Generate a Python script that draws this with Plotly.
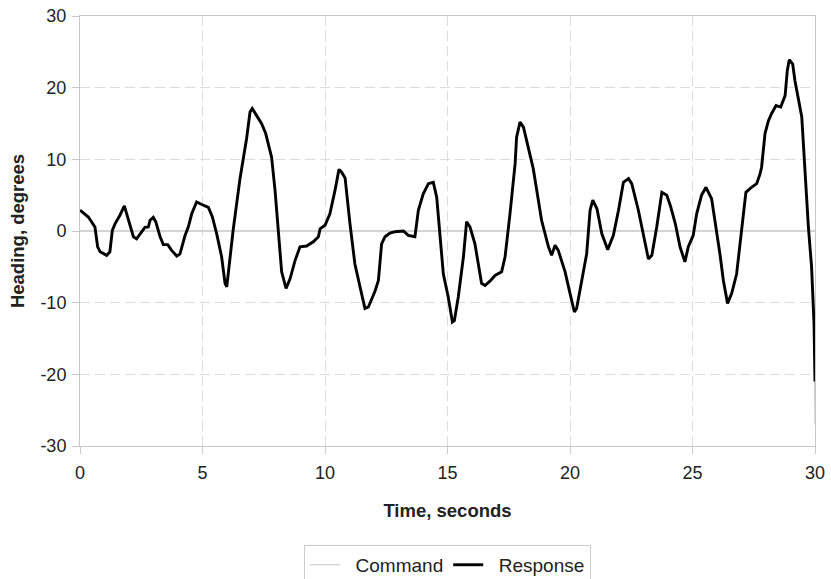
import plotly.graph_objects as go

time_s = [0, 0.34, 0.61, 0.72, 0.82, 1.09, 1.22, 1.32, 1.43, 1.63, 1.81, 1.97, 2.18, 2.31,
          2.52, 2.65, 2.79, 2.86, 2.99, 3.09, 3.27, 3.4, 3.58, 3.74, 3.95, 4.08, 4.29, 4.42,
          4.56, 4.76, 4.97, 5.24, 5.4, 5.58, 5.78, 5.92, 5.99, 6.05, 6.25, 6.53, 6.67, 6.8,
          6.94, 7.03, 7.21, 7.41, 7.58, 7.82, 7.96, 8.1, 8.23, 8.41, 8.57, 8.78, 8.98, 9.25,
          9.52, 9.73, 9.8, 10.0, 10.2, 10.41, 10.57, 10.68, 10.82, 11.02, 11.22, 11.49, 11.63,
          11.77, 12.04, 12.18, 12.31, 12.45, 12.65, 12.86, 13.06, 13.2, 13.4, 13.67, 13.81,
          14.01, 14.22, 14.42, 14.56, 14.83, 15.03, 15.2, 15.28, 15.44, 15.65, 15.78, 15.92,
          16.12, 16.39, 16.53, 16.73, 16.94, 17.21, 17.35, 17.55, 17.76, 17.82, 17.96, 18.1,
          18.37, 18.5, 18.84, 19.12, 19.25, 19.39, 19.52, 19.8, 20.0, 20.18, 20.27, 20.48,
          20.68, 20.82, 20.93, 21.1, 21.3, 21.54, 21.77, 21.98, 22.18, 22.39, 22.52, 22.79,
          23.0, 23.2, 23.34, 23.54, 23.75, 23.95, 24.1, 24.3, 24.49, 24.69, 24.83, 25.03,
          25.17, 25.37, 25.55, 25.78, 26.12, 26.26, 26.43, 26.6, 26.8, 27.0, 27.18, 27.41,
          27.62, 27.76, 27.82, 27.96, 28.1, 28.23, 28.41, 28.6, 28.78, 28.87, 28.95, 29.09,
          29.18, 29.46, 29.59, 29.73, 29.86, 29.96, 30.0]

response = [2.9, 1.95, 0.56, -2.2, -2.9, -3.4, -2.9, 0.1, 1.0, 2.2, 3.5, 1.7, -0.8, -1.1,
            -0.1, 0.5, 0.56, 1.5, 1.9, 1.3, -0.8, -1.9, -1.9, -2.7, -3.5, -3.2, -0.6, 0.56,
            2.4, 4.05, 3.7, 3.3, 2.0, -0.4, -3.6, -7.3, -7.8, -6.0, 0.1, 7.3, 10.3, 12.9,
            16.6, 17.1, 16.1, 15.0, 13.6, 10.3, 5.7, -0.8, -5.7, -8.0, -6.7, -4.1, -2.2, -2.1,
            -1.5, -0.8, 0.3, 0.8, 2.4, 5.7, 8.6, 8.2, 7.4, 1.0, -4.6, -8.7, -10.8,
            -10.6, -8.4, -6.9, -1.8, -0.8, -0.3, -0.1, -0.1, 0.0, -0.6, -0.8, 2.9,
            5.2, 6.6, 6.8, 4.7, -6.0, -9.2, -12.7, -12.5, -9.2, -3.6, 1.3, 0.56,
            -1.8, -7.3, -7.6, -7.0, -6.2, -5.7, -3.6, 2.4, 9.4, 13.1, 15.2, 14.5,
            10.3, 8.7, 1.5, -2.2, -3.4, -2.0, -2.7, -5.7, -8.7, -11.3, -10.8, -6.9,
            -3.2, 2.9, 4.3, 3.1, -0.4, -2.6, -0.6, 2.9, 6.8, 7.3, 6.6, 2.9,
            -0.8, -3.9, -3.4, 0.56, 5.4, 5.0, 3.5, 1.0, -2.2, -4.3, -2.2, -0.6,
            2.4, 5.0, 6.1, 4.5, -3.2, -6.9, -10.1, -8.7, -6.0, -0.4, 5.4, 6.1,
            6.6, 8.0, 8.9, 13.6, 15.4, 16.4, 17.5, 17.3, 18.9, 22.4, 23.9, 23.3,
            21.0, 15.9, 8.0, 0.56, -5.0, -12.9, -21.0]

command = response[:-1] + [-27.0]

x_ticks = [0, 5, 10, 15, 20, 25, 30]
y_ticks = [-30, -20, -10, 0, 10, 20, 30]

fig = go.Figure()
fig.add_trace(go.Scatter(x=time_s, y=command, mode="lines", name="\u00a0\u00a0Command",
                         line=dict(color="#c4c4c4", width=1)))
fig.add_trace(go.Scatter(x=time_s, y=response, mode="lines", name="\u00a0\u00a0Response",
                         line=dict(color="#000000", width=2.9)))

font_family = "Liberation Sans, Arial, sans-serif"
fig.update_layout(
    width=831, height=579,
    margin=dict(l=80, r=16, t=16, b=133, autoexpand=False),
    paper_bgcolor="white", plot_bgcolor="white",
    font=dict(family=font_family, size=18, color="#222222"),
    showlegend=True,
    legend=dict(orientation="h", x=0.5, xanchor="center", y=-0.23, yanchor="top",
                bordercolor="#cccccc", borderwidth=1, font=dict(size=19),
                itemwidth=30, tracegroupgap=0),
)
fig.update_xaxes(
    range=[0, 30], tickvals=x_ticks, ticktext=[str(v) for v in x_ticks],
    showgrid=True, gridcolor="#dcdcdc", griddash="10px,5px", gridwidth=1,
    showline=True, linecolor="#c8c8c8", linewidth=1, mirror=True,
    zeroline=False, ticks="outside", ticklen=7, tickcolor="#c8c8c8",
    ticklabelstandoff=3,
    tickfont=dict(size=18),
    title=dict(text="<b>Time, seconds</b>", font=dict(size=18.5), standoff=22),
)
fig.update_yaxes(
    range=[-30, 30], tickvals=y_ticks, ticktext=[str(v) for v in y_ticks],
    showgrid=True, gridcolor="#dcdcdc", griddash="10px,5px", gridwidth=1,
    showline=True, linecolor="#c8c8c8", linewidth=1, mirror=True,
    zeroline=True, zerolinecolor="#d4d4d4", zerolinewidth=1.5,
    ticks="outside", ticklen=7, tickcolor="#c8c8c8", ticklabelstandoff=2,
    tickfont=dict(size=18),
    title=dict(text="<b>Heading, degrees</b>", font=dict(size=18.5), standoff=10),
)

fig.write_html("out.html")
